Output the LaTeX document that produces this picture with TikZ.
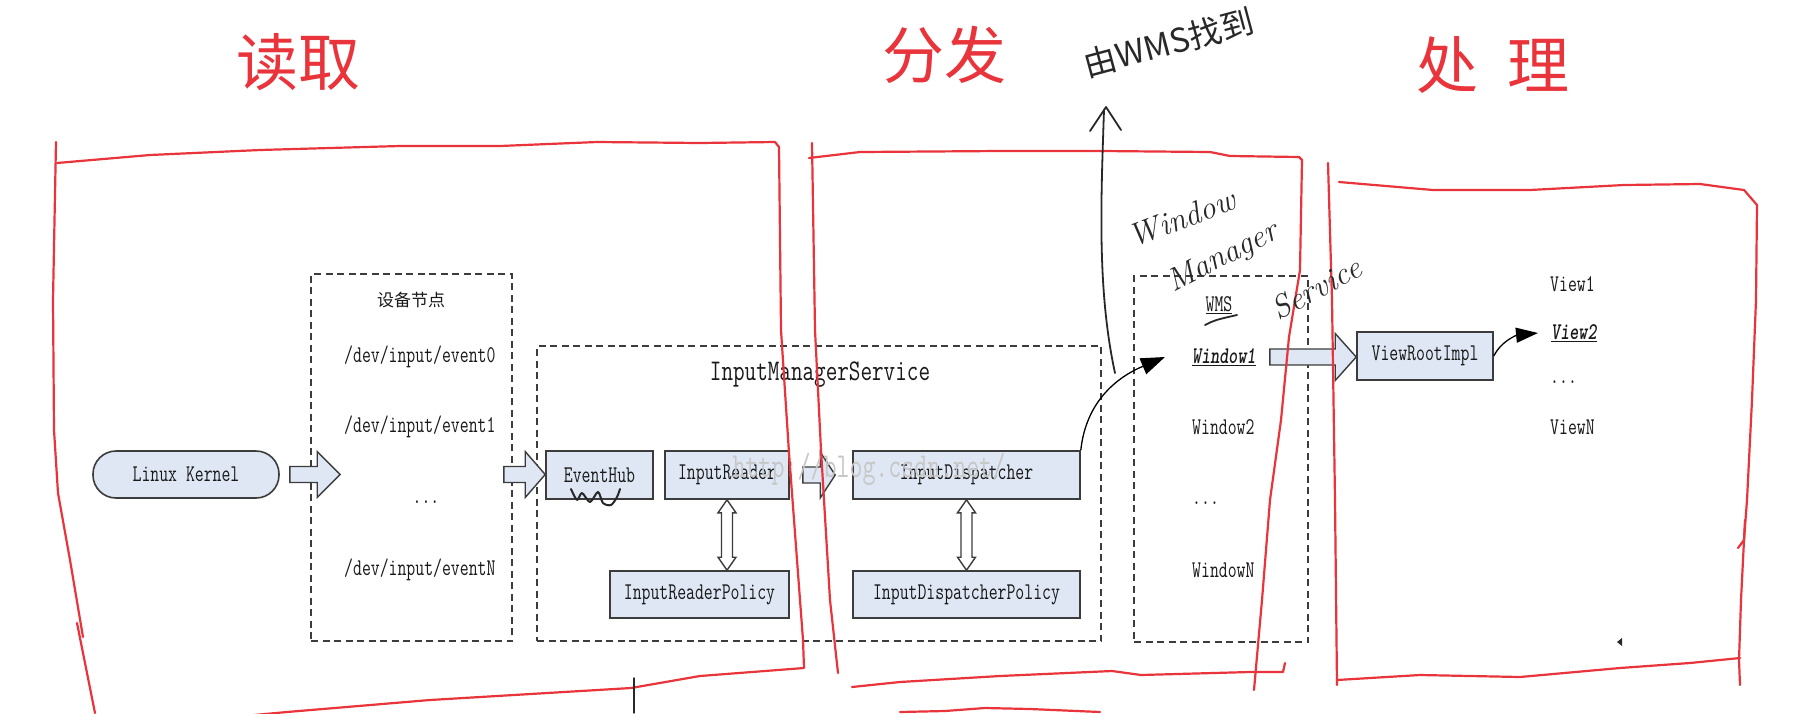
\documentclass[tikz,border=0pt]{standalone}
\usepackage{fontspec}
\usepackage{graphicx}
\usetikzlibrary{calc,arrows.meta}
\newfontfamily\cjk{Noto Sans CJK SC}
\definecolor{boxfill}{RGB}{222,231,243}
\definecolor{boxline}{RGB}{60,60,60}
\definecolor{txt}{RGB}{25,25,25}
\definecolor{pen}{RGB}{232,52,58}
\definecolor{ink}{RGB}{40,40,40}
\newcommand{\sm}[1]{\scalebox{0.72}[1]{#1}}
\newcommand{\blkarrow}[5]{\path[blockarrow] let \p1=(#1), \p2=(#2) in (\x1,\y1+#4) -- (\x2-#3,\y1+#4) -- (\x2-#3,\y1+#5) -- (\x2,\y1) -- (\x2-#3,\y1-#5) -- (\x2-#3,\y1-#4) -- (\x1,\y1-#4) -- cycle;}
\newcommand{\dblarrowv}[5]{\path[dblarrow] let \p1=(#1), \p2=(#2) in (\x1,\y1) -- (\x1+#5,\y1-#3) -- (\x1+#4,\y1-#3) -- (\x1+#4,\y2+#3) -- (\x1+#5,\y2+#3) -- (\x1,\y2) -- (\x1-#5,\y2+#3) -- (\x1-#4,\y2+#3) -- (\x1-#4,\y1-#3) -- (\x1-#5,\y1-#3) -- cycle;}
\tikzset{
 solidbox/.style={draw=boxline, line width=1.6pt, fill=boxfill, inner sep=0pt, text=txt, font=\ttfamily\fontsize{24}{28}\selectfont},
 dashbox/.style={draw=boxline, line width=1.6pt, dash pattern=on 7pt off 4.5pt, inner sep=0pt},
 lbl/.style={inner sep=0pt, text=txt, font=\ttfamily\fontsize{24}{28}\selectfont},
 blockarrow/.style={draw=boxline, line width=1.4pt, fill=boxfill, line join=miter},
 dblarrow/.style={draw=boxline, line width=1.4pt, fill=white, line join=miter},
 redpen/.style={draw=pen, line width=2.2pt, line cap=round, line join=round},
 inkpen/.style={draw=ink, line width=1.8pt, line cap=round, line join=round},
 curvearrow/.style={draw=black, line width=1.3pt, -{Triangle[length=24pt,width=17pt]}},
 redtitle/.style={text=pen, font=\cjk\fontsize{62}{70}\selectfont, inner sep=0pt},
 handtxt/.style={text=ink, font=\itshape\fontsize{32}{36}\selectfont, inner sep=0pt},
}
\begin{document}
\begin{tikzpicture}[x=1pt,y=-1pt]
\useasboundingbox (0,0) rectangle (1800,713);
\clip (0,0) rectangle (1800,713);
\fill[white] (0,0) rectangle (1800,713);

% ---- boxes ----
\node[solidbox, rounded corners=23pt, minimum width=186pt, minimum height=47pt] (kernel) at (186,474.5) {\sm{Linux Kernel}};
\node[dashbox, minimum width=201pt, minimum height=367pt] (devbox) at (411.5,457.5) {};
\node[lbl, font=\cjk\fontsize{17}{20}\selectfont] (devtitle) at (411,300) {设备节点};
\node[lbl, anchor=west] (ev0) at (344,357) {\sm{/dev/input/event0}};
\node[lbl, anchor=west] (ev1) at (344,427) {\sm{/dev/input/event1}};
\node[lbl] (evdots) at (426,502) {\sm{...}};
\node[lbl, anchor=west] (evN) at (344,570) {\sm{/dev/input/eventN}};

\node[dashbox, minimum width=564pt, minimum height=295pt] (imsbox) at (819,493.5) {};
\node[lbl, font=\ttfamily\fontsize{30}{34}\selectfont] (imstitle) at (820,375) {\scalebox{0.75}[1]{InputManagerService}};
\node[solidbox, minimum width=107pt, minimum height=48pt] (eventhub) at (599.5,475) {\sm{EventHub}};
\node[solidbox, minimum width=124pt, minimum height=48pt] (reader) at (727,475) {\sm{InputReader}};
\node[solidbox, minimum width=227pt, minimum height=48pt] (dispatcher) at (966.5,475) {\sm{InputDispatcher}};
\node[solidbox, minimum width=179pt, minimum height=47pt] (readerpolicy) at (699.5,594.5) {\sm{InputReaderPolicy}};
\node[solidbox, minimum width=227pt, minimum height=47pt] (dispolicy) at (966.5,594.5) {\sm{InputDispatcherPolicy}};

\node[dashbox, minimum width=174pt, minimum height=366pt] (wmsbox) at (1221,459) {};
\node[lbl] (wms) at (1219,305) {\sm{\underline{WMS}}};
\node[lbl, anchor=west] (win1) at (1192,357) {\sm{\bfseries\itshape\underline{Window1}}};
\node[lbl, anchor=west] (win2) at (1192,427) {\sm{Window2}};
\node[lbl, anchor=west] (windots) at (1192,503) {\sm{...}};
\node[lbl, anchor=west] (winN) at (1192,570) {\sm{WindowN}};

\node[solidbox, minimum width=136pt, minimum height=48pt] (viewroot) at (1425,356) {\sm{ViewRootImpl}};
\node[lbl, anchor=west] (view1) at (1550,284) {\sm{View1}};
\node[lbl, anchor=west] (view2) at (1551,333) {\sm{\bfseries\itshape\underline{View2}}};
\node[lbl, anchor=west] (viewdots) at (1550,382) {\sm{...}};
\node[lbl, anchor=west] (viewN) at (1550,427) {\sm{ViewN}};

% ---- block arrows ----
\coordinate (a1s) at ($(kernel.east)+(10,0)$);
\coordinate (a1t) at ($(kernel.east -| devbox.west)+(30,0)$);
\blkarrow{a1s}{a1t}{23pt}{8pt}{23pt}
\coordinate (a2s) at ($(kernel.east -| devbox.east)+(-9,0)$);
\coordinate (a2t) at (eventhub.west);
\blkarrow{a2s}{a2t}{20pt}{8pt}{23pt}
\coordinate (a3s) at ($(reader.east)+(13,0)$);
\coordinate (a3t) at ($(dispatcher.west)+(-17,0)$);
\blkarrow{a3s}{a3t}{15pt}{8pt}{23pt}
\coordinate (a4s) at ($(win1.east)+(14,0)$);
\coordinate (a4t) at (viewroot.west);
\blkarrow{a4s}{a4t}{21pt}{8pt}{23.5pt}

% ---- double arrows ----
\coordinate (d1b) at (reader.south |- readerpolicy.north);
\dblarrowv{reader.south}{d1b}{13pt}{5.5pt}{9pt}
\coordinate (d2b) at (dispatcher.south |- dispolicy.north);
\dblarrowv{dispatcher.south}{d2b}{13pt}{5.5pt}{9pt}

% ---- curved arrows ----
\coordinate (w1tip) at ($(win1.west)+(-27,0)$);
\draw[curvearrow] (dispatcher.north east) .. controls ($(dispatcher.north east)+(5,-47)$) and ($(w1tip)+(-50,21)$) .. (w1tip);
\coordinate (v2tip) at ($(view2.west)+(-13,0)$);
\draw[curvearrow, -{Triangle[length=22pt,width=15pt]}] (viewroot.east) .. controls ($(viewroot.east)+(8,-16)$) and ($(v2tip)+(-20,2)$) .. (v2tip);

% ---- watermark ----
\node[text=black!22, font=\ttfamily\fontsize{35}{38}\selectfont, inner sep=0pt] (wm) at (869,469) {\sm{http://blog.csdn.net/}};

% ---- red hand-drawn frames ----
\draw[redpen] (56,142) -- (53,300) -- (54,430) -- (58,493) -- (70,560) -- (83,637);
\draw[redpen] (77,623) -- (95,713);
\draw[redpen] (57,163) -- (150,155) -- (260,150) -- (400,146) -- (500,146) -- (597,142) -- (700,143) -- (775,142) -- (779,147) -- (781,330) -- (789,453) -- (803,640) -- (804,668) -- (700,676) -- (631,688) -- (430,700) -- (287,712) -- (200,720);
\draw[redpen] (812,143) -- (815,330) -- (821,450) -- (830,600) -- (838,673);
\draw[redpen] (809,158) -- (860,152) -- (1000,151) -- (1101,151) -- (1210,152) -- (1230,156) -- (1299,157) -- (1302,160) -- (1300,270) -- (1289,337) -- (1281,420) -- (1270,500) -- (1262,600) -- (1254,690);
\draw[redpen] (852,687) -- (900,682) -- (1000,676) -- (1112,671) -- (1141,675) -- (1250,672) -- (1283,672) -- (1285,663);
\draw[redpen] (900,712) -- (945,711) -- (985,708) -- (1030,709) -- (1100,712);
\draw[redpen] (1328,163) -- (1332,300) -- (1335,500) -- (1337,685);
\draw[redpen] (1339,182) -- (1433,190) -- (1530,190) -- (1624,185) -- (1700,184) -- (1744,190) -- (1757,205) -- (1756,300) -- (1752,400) -- (1747,500) -- (1744,540) -- (1738,548);
\draw[redpen] (1745,520) -- (1741,600) -- (1739,660) -- (1740,685);
\draw[redpen] (1337,680) -- (1420,675) -- (1520,677) -- (1620,668) -- (1690,663) -- (1740,658);

% ---- red titles ----
\node[redtitle] (tRead) at (298,62) {读取};
\node[redtitle] (tDist) at (944,55) {分发};
\node[redtitle] (tProc) at (1493,65) {处\hspace{30pt}理};

% ---- black hand-drawn marks ----
\draw[inkpen, line width=1.4pt] (634,678) -- (634,713);
\draw[inkpen] (1104,110) .. controls (1101,200) and (1097,290) .. (1115,373);
\draw[inkpen] (1090,131) -- (1106,107) -- (1121,130);
\draw[inkpen, line width=2pt] plot[smooth] coordinates {(571,489) (577,500) (582,493) (590,502) (598,492) (603,503) (611,505) (617,497) (620,489)};
\draw[inkpen] (1205,325) .. controls (1215,320) .. (1237,315);
\fill[ink] (1617,642) -- (1622,638) -- (1622,646) -- cycle;
\node[handtxt, rotate=21] (hwWindow) at (1182,218) {Window};
\node[handtxt, rotate=27] (hwManager) at (1223,258) {Manager};
\node[handtxt, rotate=28] (hwService) at (1316,288) {Service};
\node[text=ink, font=\cjk\fontsize{33}{36}\selectfont, rotate=15, anchor=south west, inner sep=0pt] (hwfind) at (1088,80) {由WMS找到};
\end{tikzpicture}
\end{document}
